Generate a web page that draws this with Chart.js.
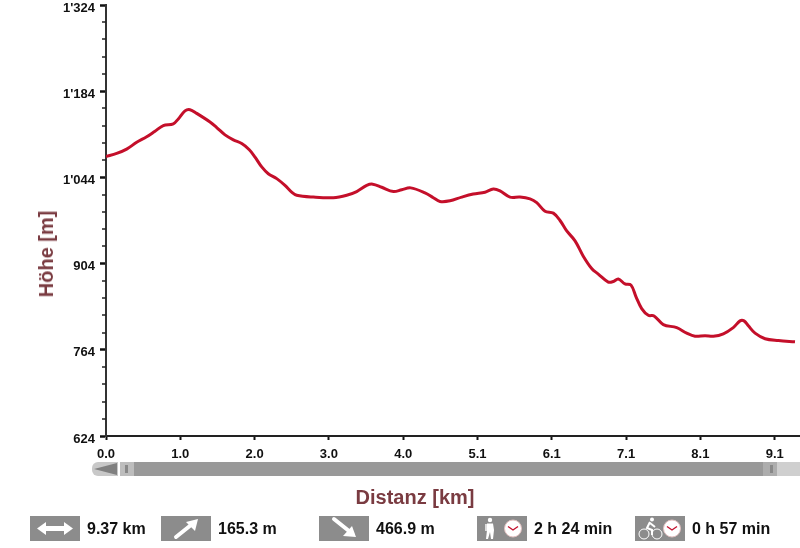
<!DOCTYPE html>
<html lang="de">
<head>
<meta charset="utf-8">
<title>Höhenprofil</title>
<script src="https://cdn.jsdelivr.net/npm/chart.js@4"></script>
<style>
  html, body { margin: 0; padding: 0; background: #fff; }
  #wrap { position: relative; width: 800px; height: 548px; overflow: hidden; font-family: "Liberation Sans", Arial, sans-serif; }
  canvas { position: absolute; left: 0; top: 0; }
  .axisTitle { position: absolute; font-weight: bold; font-size: 20px; line-height: 22px; color: #7a3b41; white-space: nowrap; }
  #titleX { left: 415px; top: 486px; transform: translateX(-50%); }
  #titleY { left: 46px; top: 254px; transform: translate(-50%, -50%) rotate(-90deg); }
  .bar { position: absolute; top: 462px; height: 14px; }
  .grip { position: absolute; top: 3px; width: 3px; height: 8px; background: #888; }
  .icon { position: absolute; top: 516px; width: 50px; height: 25px; background: #8c8c8c; }
  .stat { position: absolute; top: 519px; font-weight: bold; font-size: 16px; line-height: 19px; color: #111; white-space: nowrap; }
</style>
</head>
<body>
<div id="wrap">
  <canvas id="profile" width="800" height="548"></canvas>

  <div class="axisTitle" id="titleY">Höhe [m]</div>
  <div class="axisTitle" id="titleX">Distanz [km]</div>

  <!-- Zoom-Leiste -->
  <div class="bar" style="left:92px;width:26px;background:#c8c8c8;border-radius:6px 0 0 6px"></div>
  <svg class="bar" style="left:92px" width="26" height="14"><polygon points="2,7 25,1 25,13" fill="#808080"/></svg>
  <div class="bar" style="left:120px;width:14px;background:#bdbdbd"><div class="grip" style="left:5px"></div></div>
  <div class="bar" style="left:134px;width:629px;background:#999"></div>
  <div class="bar" style="left:763px;width:14px;background:#adadad"><div class="grip" style="left:7px"></div></div>
  <div class="bar" style="left:777px;width:23px;background:#cfcfcf"></div>

  <!-- Kennzahlen -->
  <div class="icon" style="left:30px">
    <svg width="50" height="25"><path d="M6 12.5 L15 6 V10 H33 V6 L42 12.5 L33 19 V15 H15 V19 Z" fill="#fff" transform="translate(1 0)"/></svg>
  </div>
  <div class="stat" style="left:87px">9.37 km</div>

  <div class="icon" style="left:161px">
    <svg width="50" height="25"><path d="M15 21 L30 9" stroke="#fff" stroke-width="4" stroke-linecap="round"/><polygon points="25,6 37,3 34,15" fill="#fff"/></svg>
  </div>
  <div class="stat" style="left:218px">165.3 m</div>

  <div class="icon" style="left:319px">
    <svg width="50" height="25"><path d="M15 3 L30 15" stroke="#fff" stroke-width="4" stroke-linecap="round"/><polygon points="37,21 24,20 33,10" fill="#fff"/></svg>
  </div>
  <div class="stat" style="left:376px">466.9 m</div>

  <div class="icon" style="left:477px">
    <svg width="50" height="25">
      <circle cx="13" cy="4" r="2.2" fill="#fff"/>
      <path d="M10 7.5 H16 L17 14 L16 23 H14 L13 16 L11 23 H9 L10 14 Z" fill="#fff"/>
      <rect x="8" y="8" width="2" height="7" fill="#ddd"/>
      <circle cx="36" cy="12.5" r="8.5" fill="#fff" stroke="#e2c0c0"/>
      <path d="M31 10.5 L36 14 L41 10.5" fill="none" stroke="#c4122f" stroke-width="1.4"/>
    </svg>
  </div>
  <div class="stat" style="left:534px">2 h 24 min</div>

  <div class="icon" style="left:635px">
    <svg width="50" height="25">
      <circle cx="9" cy="18" r="5" fill="none" stroke="#fff"/>
      <circle cx="22" cy="18" r="5" fill="none" stroke="#fff"/>
      <circle cx="17" cy="3.5" r="2" fill="#fff"/>
      <path d="M15 6 L12 12 L17 14 L17 19 M15 7 L20 11" fill="none" stroke="#fff" stroke-width="2"/>
      <circle cx="37" cy="12.5" r="8.5" fill="#fff" stroke="#e2c0c0"/>
      <path d="M32 10.5 L37 14 L42 10.5" fill="none" stroke="#c4122f" stroke-width="1.4"/>
    </svg>
  </div>
  <div class="stat" style="left:692px">0 h 57 min</div>
</div>

<script>
// Profil
const distanceKm = [
  0.0, 0.145, 0.281, 0.417, 0.553, 0.666, 0.779, 0.915, 0.983, 1.074, 1.142, 1.233, 1.414, 1.505, 1.618, 1.731,
  1.845, 1.948, 2.026, 2.117, 2.206, 2.321, 2.433, 2.524, 2.592, 2.818, 3.09, 3.272, 3.408, 3.544, 3.626, 3.748,
  3.906, 4.02, 4.142, 4.336, 4.449, 4.54, 4.676, 4.835, 4.993, 5.152, 5.265, 5.356, 5.492, 5.628, 5.764, 5.855,
  5.968, 6.081, 6.172, 6.263, 6.376, 6.488, 6.602, 6.692, 6.828, 6.896, 6.964, 7.055, 7.137, 7.205, 7.282, 7.372,
  7.45, 7.576, 7.758, 7.894, 8.007, 8.143, 8.256, 8.392, 8.527, 8.619, 8.673, 8.732, 8.823, 8.959, 9.14, 9.366
];
const elevationM = [
  1078, 1083, 1090, 1101, 1110, 1119, 1128, 1131, 1139, 1152, 1154, 1148, 1134, 1125, 1113, 1105,
  1099, 1089, 1077, 1061, 1050, 1042, 1031, 1020, 1015, 1012, 1011, 1015, 1021, 1031, 1033, 1028,
  1021, 1024, 1027, 1019, 1011, 1005, 1006, 1012, 1017, 1020, 1025, 1022, 1012, 1012, 1009, 1003,
  989, 986, 974, 957, 941, 916, 896, 887, 874, 875, 879, 871, 869, 850, 831, 820,
  819, 805, 800, 791, 786, 787, 786, 790, 800, 811, 811, 803, 791, 782, 779, 777
];

const xTickValues = [0, 1.01, 2.02, 3.03, 4.04, 5.05, 6.06, 7.07, 8.08, 9.09];
const xTickLabels = ['0.0', '1.0', '2.0', '3.0', '4.0', '5.1', '6.1', '7.1', '8.1', '9.1'];
const yTickValues = [624, 764, 904, 1044, 1184, 1324];
const yTickLabels = ['624', '764', '904', "1'044", "1'184", "1'324"];
const yMinorValues = [
  652, 680, 708, 736, 792, 820, 848, 876, 932, 960, 988, 1016,
  1072, 1100, 1128, 1156, 1212, 1240, 1268, 1296
];

const TICK_FONT = { family: "'Liberation Sans', Arial, sans-serif", size: 13, weight: 'bold' };

// kurze Zwischenstriche an der Höhenachse
const minorTicks = {
  id: 'minorTicks',
  afterDraw(chart) {
    const { ctx, scales: { y } } = chart;
    ctx.save();
    ctx.strokeStyle = '#222';
    ctx.lineWidth = 1.5;
    yMinorValues.forEach(v => {
      const py = Math.round(y.getPixelForValue(v));
      ctx.beginPath();
      ctx.moveTo(y.right - 4, py);
      ctx.lineTo(y.right, py);
      ctx.stroke();
    });
    ctx.restore();
  }
};

new Chart(document.getElementById('profile'), {
  type: 'line',
  data: {
    datasets: [{
      data: distanceKm.map((km, i) => ({ x: km, y: elevationM[i] })),
      borderColor: '#c40f2a',
      borderWidth: 3,
      pointRadius: 0,
      tension: 0.35,
      fill: false
    }]
  },
  options: {
    responsive: false,
    animation: false,
    layout: { padding: { top: 5, left: 0, right: 0, bottom: 0 } },
    plugins: { legend: { display: false }, tooltip: { enabled: false } },
    scales: {
      x: {
        type: 'linear',
        min: 0,
        max: 9.434,
        afterBuildTicks: (scale) => { scale.ticks = xTickValues.map(value => ({ value })); },
        afterFit: (scale) => { scale.height = 112; scale.paddingLeft = 0; scale.paddingRight = 0; },
        border: { color: '#222', width: 2 },
        grid: { drawOnChartArea: false, tickLength: 4, tickWidth: 2, tickColor: '#111' },
        ticks: {
          autoSkip: false,
          maxRotation: 0,
          padding: 7,
          color: '#111',
          font: TICK_FONT,
          callback: (v) => xTickLabels[xTickValues.indexOf(v)]
        }
      },
      y: {
        min: 624,
        max: 1324,
        afterBuildTicks: (scale) => { scale.ticks = yTickValues.map(value => ({ value })); },
        afterFit: (scale) => { scale.width = 106; scale.paddingTop = 0; scale.paddingBottom = 0; },
        border: { color: '#333', width: 2 },
        grid: { drawOnChartArea: false, tickLength: 6, tickWidth: 2.5, tickColor: '#111' },
        ticks: {
          padding: 5,
          labelOffset: 3,
          color: '#111',
          font: TICK_FONT,
          callback: (v) => yTickLabels[yTickValues.indexOf(v)]
        }
      }
    }
  },
  plugins: [minorTicks]
});
</script>
</body>
</html>
